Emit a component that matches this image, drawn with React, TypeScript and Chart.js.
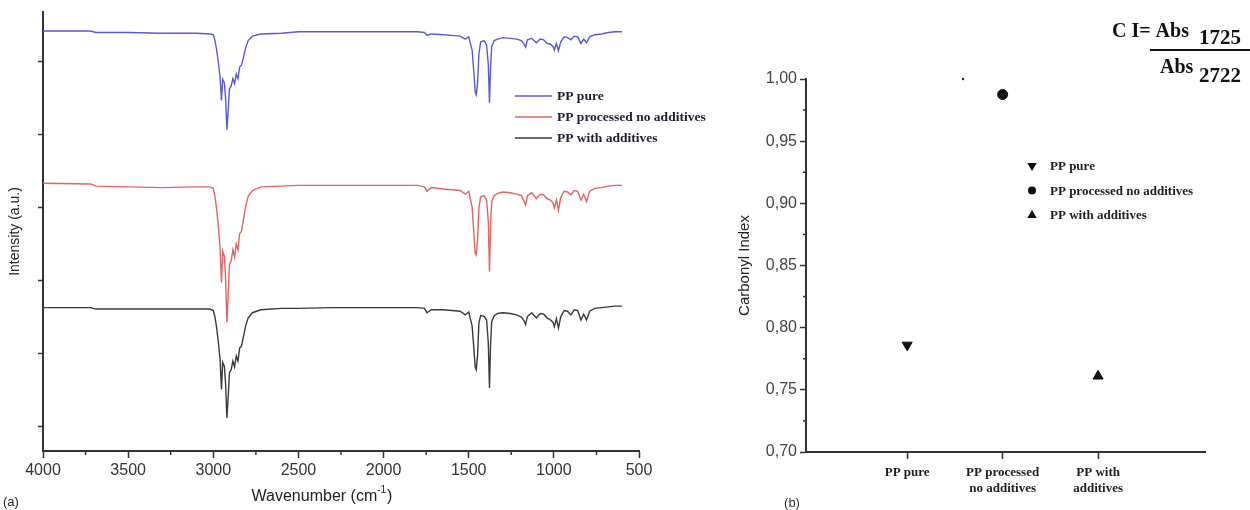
import React, { useEffect, useRef } from "react";
import { Chart, registerables } from "chart.js";

Chart.register(...registerables);

// ---------- DATA ----------
const WAVENUMBERS = [
  4000, 3720, 3690, 3500, 3300, 3100, 3020,
  3000, 2990, 2980, 2970, 2960, 2952, 2945, 2935, 2928, 2920, 2912, 2905, 2895, 2885, 2875, 2865, 2855, 2845, 2835, 2825, 2810, 2795, 2770, 2720,
  2600, 2500, 2300, 2100, 1900,
  1800, 1760, 1745, 1720, 1650, 1600, 1550, 1520, 1500, 1480,
  1470, 1462, 1456, 1448, 1440, 1430, 1410, 1395, 1385, 1378,
  1372, 1365, 1350, 1330, 1300, 1255, 1220, 1190, 1175, 1166,
  1155, 1130, 1103, 1080, 1060, 1040, 1020, 1005, 997, 985,
  973, 960, 940, 920, 900, 880, 860, 841, 825, 808,
  790, 760, 720, 680, 640, 600,
];

const PP_PURE = [
  54.1, 54.1, 53.9, 53.9, 53.8, 53.8, 53.7,
  53.6, 52.8, 51.5, 49.8, 47.8, 44.6, 47.5, 47.0, 45.0, 40.6, 43.5, 46.2, 46.6, 47.6, 46.9, 48.2, 47.6, 49.2, 49.4, 50.3, 51.8, 52.8, 53.4, 53.7,
  53.8, 54.0, 54.0, 54.0, 54.0,
  54.0, 53.9, 53.5, 53.7, 53.6, 53.5, 53.4, 53.0, 53.3, 51.5,
  48.5, 45.8, 45.4, 47.0, 51.0, 52.6, 52.8, 52.2, 49.5, 44.3,
  49.0, 52.0, 52.8, 53.0, 53.2, 53.1, 53.0, 52.8, 52.3, 51.9,
  52.9, 53.1, 52.5, 53.0, 52.9, 52.4, 52.3, 52.0, 51.5, 52.4,
  51.4, 52.6, 53.3, 53.2, 52.9, 53.4, 53.3, 52.4, 53.0, 52.5,
  53.3, 53.6, 53.7, 53.9, 54.0, 54.0,
];

const PP_PROCESSED = [
  33.3, 33.2, 32.9, 32.8, 32.7, 32.8, 32.8,
  32.6, 31.5, 29.7, 27.3, 24.4, 19.7, 24.0, 23.3, 20.5, 14.3, 18.4, 22.2, 22.7, 24.2, 23.2, 25.0, 24.2, 26.4, 26.7, 28.0, 30.1, 31.5, 32.3, 32.8,
  32.9, 33.0, 33.0, 33.0, 33.0,
  33.0, 32.8, 32.2, 32.7, 32.5, 32.4, 32.3, 31.8, 32.2, 30.0,
  26.5, 23.8, 23.5, 25.5, 30.0, 31.4, 31.6, 31.0, 28.0, 21.2,
  27.5, 30.8, 31.6, 31.9, 32.1, 32.0, 31.8, 31.6, 30.8, 30.3,
  31.6, 32.0, 31.2, 31.8, 31.7, 31.2, 31.0, 30.6, 29.9, 31.0,
  29.6, 31.3, 32.2, 32.1, 31.7, 32.3, 32.2, 31.0, 31.8, 30.8,
  32.2, 32.6, 32.7, 32.9, 33.0, 33.0,
];

const PP_ADDITIVES = [
  16.3, 16.3, 16.1, 16.1, 16.1, 16.1, 16.1,
  15.9, 15.0, 13.5, 11.5, 9.2, 5.1, 8.8, 8.3, 6.0, 1.2, 4.3, 7.4, 7.8, 9.0, 8.2, 9.7, 9.0, 10.8, 11.0, 12.1, 13.8, 14.9, 15.6, 16.0,
  16.2, 16.2, 16.3, 16.3, 16.3,
  16.3, 16.2, 15.6, 16.0, 16.0, 15.9, 15.8, 15.3, 15.7, 13.8,
  10.8, 8.2, 7.8, 9.8, 14.2, 15.2, 15.1, 14.6, 11.5, 5.3,
  11.0, 14.4, 15.2, 15.5, 15.6, 15.5, 15.3, 15.0, 14.5, 14.0,
  15.1, 15.6, 14.9, 15.5, 15.4, 14.9, 14.6, 14.3, 13.7, 14.8,
  13.5, 15.0, 15.9, 15.8, 15.3, 16.0, 15.9, 14.6, 15.4, 14.6,
  15.8, 16.2, 16.3, 16.4, 16.5, 16.5,
];

const SERIES_NAMES = ["PP pure", "PP processed no additives", "PP with additives"];
const SPECTRA_COLORS = ["#5a5ad4", "#e06565", "#3a3a3a"];
const INTENSITY_TICKS = [0, 10, 20, 30, 40, 50];
const WAVENUMBER_TICKS = [4000, 3500, 3000, 2500, 2000, 1500, 1000, 500];

const CI_CATEGORIES = [["PP pure"], ["PP processed", "no additives"], ["PP with", "additives"]];
const CI_POSITIONS = [1, 2, 3];
const CI_VALUES = [0.786, 0.9875, 0.761];
const CI_MARKERS = ["triangleDown", "circle", "triangle"];
const CI_TICKS = [0.7, 0.75, 0.8, 0.85, 0.9, 0.95, 1.0];
const SPECK_X = [1.585];
const SPECK_Y = [1.0];

// ---------- STYLE ----------
const SANS = '"Liberation Sans", Arial, sans-serif';
const SERIF = '"Liberation Serif", "Times New Roman", serif';
const AXIS = "#333333";

function drawMarker(ctx: CanvasRenderingContext2D, style: string, x: number, y: number, r: number) {
  ctx.beginPath();
  if (style === "circle") {
    ctx.arc(x, y, r, 0, Math.PI * 2);
  } else {
    const d = style === "triangleDown" ? 1 : -1;
    ctx.moveTo(x, y + d * r);
    ctx.lineTo(x - r * 0.95, y - d * r * 0.6);
    ctx.lineTo(x + r * 0.95, y - d * r * 0.6);
    ctx.closePath();
  }
  ctx.fill();
}

function minorTicks(chart: any, scaleId: string, len: number) {
  const s = chart.scales[scaleId];
  const ctx = chart.ctx;
  const vals = s.ticks.map((t: any) => t.value);
  ctx.save();
  ctx.strokeStyle = AXIS;
  ctx.lineWidth = 1.5;
  for (let i = 0; i < vals.length - 1; i++) {
    const mid = (vals[i] + vals[i + 1]) / 2;
    ctx.beginPath();
    if (s.isHorizontal()) {
      const px = s.getPixelForValue(mid);
      ctx.moveTo(px, s.top);
      ctx.lineTo(px, s.top + len);
    } else {
      const py = s.getPixelForValue(mid);
      ctx.moveTo(s.right - len, py);
      ctx.lineTo(s.right, py);
    }
    ctx.stroke();
  }
  ctx.restore();
}

const spectraDecor = {
  id: "spectraDecor",
  afterDraw(chart: any) {
    const ctx = chart.ctx;
    minorTicks(chart, "x", 4);
    const area = chart.chartArea;
    ctx.save();
    // legend
    chart.data.datasets.forEach((ds: any, i: number) => {
      const y = 96 + i * 21;
      ctx.strokeStyle = ds.borderColor;
      ctx.lineWidth = 1.3;
      ctx.beginPath();
      ctx.moveTo(515, y);
      ctx.lineTo(552, y);
      ctx.stroke();
      ctx.fillStyle = "#1e1e30";
      ctx.font = `bold 13.5px ${SERIF}`;
      ctx.textAlign = "left";
      ctx.textBaseline = "middle";
      ctx.fillText(ds.label, 557, y + 1);
    });
    // x title with superscript
    const cx = (area.left + area.right) / 2 - 19;
    const cy = 497;
    ctx.fillStyle = "#222";
    ctx.textBaseline = "middle";
    ctx.font = `16px ${SANS}`;
    const p1 = "Wavenumber (cm";
    const p3 = ")";
    const w1 = ctx.measureText(p1).width;
    const w3 = ctx.measureText(p3).width;
    ctx.font = `10px ${SANS}`;
    const p2 = "-1";
    const w2 = ctx.measureText(p2).width;
    const x0 = cx - (w1 + w2 + w3 + 1) / 2;
    ctx.font = `16px ${SANS}`;
    ctx.textAlign = "left";
    ctx.fillText(p1, x0, cy);
    ctx.font = `10px ${SANS}`;
    ctx.fillText(p2, x0 + w1, cy - 7);
    ctx.font = `16px ${SANS}`;
    ctx.fillText(p3, x0 + w1 + w2 + 1, cy);
    // panel label
    ctx.font = `13px ${SANS}`;
    ctx.fillText("(a)", 3, 502);
    ctx.restore();
  },
};

const ciDecor = {
  id: "ciDecor",
  afterDraw(chart: any) {
    const ctx = chart.ctx;
    minorTicks(chart, "y", 3);
    ctx.save();
    // legend
    CI_MARKERS.forEach((m, i) => {
      const y = 166 + i * 24.5;
      ctx.fillStyle = "#111";
      drawMarker(ctx, m, 382, y, m === "circle" ? 4 : 5);
      ctx.fillStyle = "#1e1e1e";
      ctx.font = `bold 13px ${SERIF}`;
      ctx.textAlign = "left";
      ctx.textBaseline = "middle";
      ctx.fillText(SERIES_NAMES[i], 400, y + 1);
    });
    // formula
    ctx.fillStyle = "#111";
    ctx.textAlign = "left";
    ctx.textBaseline = "alphabetic";
    ctx.font = `bold 20px ${SERIF}`;
    ctx.fillText("C I= Abs", 462, 37);
    ctx.fillText("Abs", 510, 73);
    ctx.font = `bold 21px ${SERIF}`;
    ctx.fillText("1725", 549, 44);
    ctx.fillText("2722", 549, 82);
    ctx.strokeStyle = "#111";
    ctx.lineWidth = 2.2;
    ctx.beginPath();
    ctx.moveTo(500, 50);
    ctx.lineTo(600, 50);
    ctx.stroke();
    // panel label
    ctx.fillStyle = "#333";
    ctx.font = `13px ${SANS}`;
    ctx.textAlign = "center";
    ctx.textBaseline = "middle";
    ctx.fillText("(b)", 142, 503);
    ctx.restore();
  },
};

export default function App() {
  const refA = useRef<HTMLCanvasElement>(null);
  const refB = useRef<HTMLCanvasElement>(null);

  useEffect(() => {
    const series = [PP_PURE, PP_PROCESSED, PP_ADDITIVES];
    const tickGrid = (len: number) => ({
      display: true,
      drawOnChartArea: false,
      drawTicks: true,
      tickLength: len,
      tickColor: AXIS,
      tickWidth: 1.5,
    });
    const border = { display: true, color: AXIS, width: 2 };

    const chartA = new Chart(refA.current as HTMLCanvasElement, {
      type: "line",
      data: {
        datasets: series.map((vals, i) => ({
          label: SERIES_NAMES[i],
          data: WAVENUMBERS.map((w, j) => ({ x: w, y: vals[j] })),
          borderColor: SPECTRA_COLORS[i],
          backgroundColor: SPECTRA_COLORS[i],
          borderWidth: 1.4,
          pointRadius: 0,
          tension: 0,
          fill: false,
        })),
      },
      options: {
        responsive: false,
        animation: false,
        layout: { padding: { top: 12, right: 81, left: 0, bottom: 0 } },
        plugins: { legend: { display: false }, tooltip: { enabled: false } },
        scales: {
          x: {
            type: "linear",
            reverse: true,
            min: 500,
            max: 4000,
            afterBuildTicks: (s: any) => {
              s.ticks = WAVENUMBER_TICKS.map((v) => ({ value: v }));
            },
            ticks: {
              autoSkip: false,
              maxRotation: 0,
              padding: 3,
              color: "#333",
              font: { family: SANS, size: 16 },
              callback: (v: any) => String(v),
            },
            grid: tickGrid(7),
            border,
            afterFit: (s: any) => {
              s.height = 59;
              s.paddingLeft = 0;
              s.paddingRight = 0;
            },
          },
          y: {
            type: "linear",
            min: -3.3,
            max: 56.7,
            afterBuildTicks: (s: any) => {
              s.ticks = INTENSITY_TICKS.map((v) => ({ value: v }));
            },
            ticks: { callback: () => "", padding: 0 },
            grid: tickGrid(5),
            border,
            title: {
              display: true,
              text: "Intensity (a.u.)",
              color: "#222",
              font: { family: SANS, size: 14 },
              padding: { top: 7, bottom: 0 },
            },
            afterFit: (s: any) => {
              s.width = 43;
              s.paddingTop = 0;
              s.paddingBottom = 0;
            },
          },
        },
      } as any,
      plugins: [spectraDecor],
    });

    const chartB = new Chart(refB.current as HTMLCanvasElement, {
      type: "scatter",
      data: {
        datasets: [
          ...CI_VALUES.map((v, i) => ({
            label: SERIES_NAMES[i],
            data: [{ x: CI_POSITIONS[i], y: v }],
            pointStyle: CI_MARKERS[i] === "circle" ? "circle" : "triangle",
            pointRotation: CI_MARKERS[i] === "triangleDown" ? 180 : 0,
            pointRadius: CI_MARKERS[i] === "circle" ? 5 : 5.8,
            pointBackgroundColor: "#111",
            pointBorderColor: "#111",
            pointBorderWidth: 1,
            clip: false,
          })),
          {
            label: "",
            data: SPECK_X.map((x, i) => ({ x, y: SPECK_Y[i] })),
            pointStyle: "circle",
            pointRadius: 1.2,
            pointBackgroundColor: "#222",
            pointBorderWidth: 0,
            clip: false,
          },
        ],
      },
      options: {
        responsive: false,
        animation: false,
        layout: { padding: { top: 79, right: 45, left: 0, bottom: 0 } },
        plugins: { legend: { display: false }, tooltip: { enabled: false } },
        scales: {
          x: {
            type: "linear",
            min: -0.06,
            max: 4.12,
            afterBuildTicks: (s: any) => {
              s.ticks = CI_POSITIONS.map((v) => ({ value: v }));
            },
            ticks: {
              autoSkip: false,
              maxRotation: 0,
              padding: 6,
              color: "#1e1e1e",
              font: { family: SERIF, size: 13, weight: "bold", lineHeight: 1.2 },
              callback: (v: any) => {
                const k = CI_POSITIONS.indexOf(Number(v));
                return k >= 0 ? CI_CATEGORIES[k] : "";
              },
            },
            grid: tickGrid(7),
            border,
            afterFit: (s: any) => {
              s.height = 58;
              s.paddingLeft = 0;
              s.paddingRight = 0;
            },
          },
          y: {
            type: "linear",
            min: 0.7,
            max: 1.0,
            afterBuildTicks: (s: any) => {
              s.ticks = CI_TICKS.map((v) => ({ value: v }));
            },
            ticks: {
              padding: 3,
              color: "#444",
              font: { family: SANS, size: 16 },
              callback: (v: any) => Number(v).toFixed(2).replace(".", ","),
            },
            grid: tickGrid(6),
            border,
            title: {
              display: true,
              text: "Carbonyl Index",
              color: "#222",
              font: { family: SANS, size: 15 },
              padding: { top: 86, bottom: 0 },
            },
            afterFit: (s: any) => {
              s.width = 156;
              s.paddingTop = 0;
              s.paddingBottom = 0;
            },
          },
        },
      } as any,
      plugins: [ciDecor],
    });

    return () => {
      chartA.destroy();
      chartB.destroy();
    };
  }, []);

  return (
    <div style={{ position: "absolute", left: 0, top: 0, width: 1250, height: 510, background: "#fff" }}>
      <canvas
        ref={refA}
        width={720}
        height={510}
        style={{ position: "absolute", left: 0, top: 0, width: 720, height: 510 }}
      />
      <canvas
        ref={refB}
        width={600}
        height={510}
        style={{ position: "absolute", left: 650, top: 0, width: 600, height: 510 }}
      />
    </div>
  );
}
